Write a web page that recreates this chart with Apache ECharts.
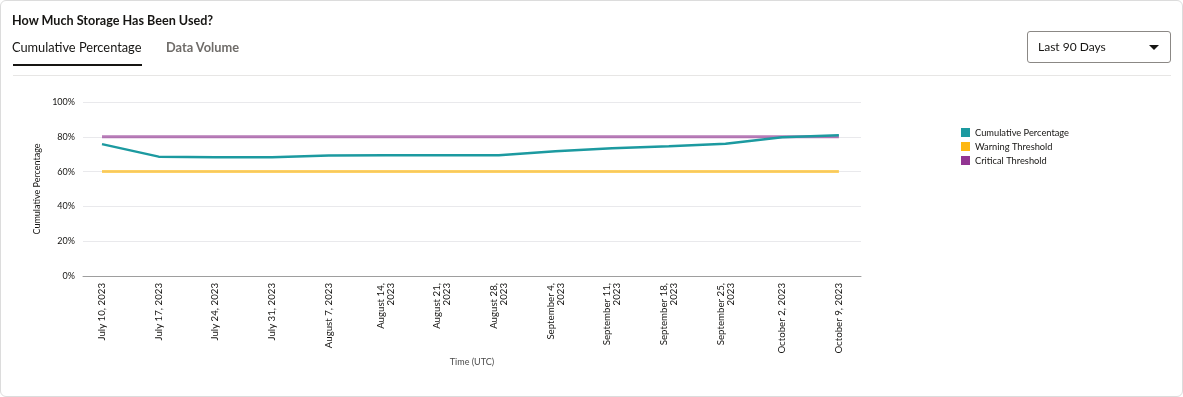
<!DOCTYPE html>
<html>
<head>
<meta charset="utf-8">
<script src="https://cdn.jsdelivr.net/npm/echarts@6/dist/echarts.min.js"></script>
<style>
  html, body { margin: 0; padding: 0; background: #fff; }
  .card {
    position: relative; width: 1183px; height: 397px; box-sizing: border-box;
    border: 1px solid #dcdcdc; border-radius: 6px; background: #fff;
    font-family: Lato, "Noto Sans", sans-serif; color: #161513; overflow: hidden;
  }
  .title { position: absolute; left: 11px; top: 12px; font-size: 12.6px; font-weight: bold; }
  .tab { position: absolute; top: 38px; font-size: 12.8px; }
  .tab.active { left: 11px; color: #161513; }
  .tab.other { left: 165px; color: #6f6c69; font-weight: bold; }
  .underline { position: absolute; left: 12px; top: 63px; width: 129px; height: 2px; background: #161513; }
  .divider { position: absolute; left: 12px; right: 11px; top: 74px; height: 1px; background: #e7e6e5; }
  .select {
    position: absolute; left: 1026px; top: 30px; width: 144px; height: 32px; box-sizing: border-box;
    border: 1px solid #8b8885; border-radius: 3px; font-size: 12px; line-height: 30px; padding-left: 10px;
  }
  .caret {
    position: absolute; right: 11px; top: 13px; width: 0; height: 0;
    border-left: 5px solid transparent; border-right: 5px solid transparent; border-top: 5px solid #161513;
  }
  #chart { position: absolute; left: 0; top: 0; width: 1183px; height: 397px; }
</style>
</head>
<body>
<div class="card">
  <div id="chart"></div>
  <div class="title">How Much Storage Has Been Used?</div>
  <div class="tab active">Cumulative Percentage</div>
  <div class="tab other">Data Volume</div>
  <div class="underline"></div>
  <div class="divider"></div>
  <div class="select">Last 90 Days<span class="caret"></span></div>
</div>
<script>
// weekly dates (tick labels, wrapped like the original)
var dateLabels = [
  'July 10, 2023', 'July 17, 2023', 'July 24, 2023', 'July 31, 2023',
  'August 7, 2023', 'August 14,\n2023', 'August 21,\n2023', 'August 28,\n2023',
  'September 4,\n2023', 'September 11,\n2023', 'September 18,\n2023', 'September 25,\n2023',
  'October 2, 2023', 'October 9, 2023'
];
var cumulative = [75.8, 68.6, 68.3, 68.3, 69.3, 69.4, 69.4, 69.4, 71.7, 73.4, 74.5, 76.0, 79.8, 80.9];
var warning = [60, 60, 60, 60, 60, 60, 60, 60, 60, 60, 60, 60, 60, 60];
var critical = [80, 80, 80, 80, 80, 80, 80, 80, 80, 80, 80, 80, 80, 80];
var yTicks = [0, 20, 40, 60, 80, 100];

function pairs(arr) {
  return arr.map(function (v, i) { return [i, v]; });
}
var idx = dateLabels.map(function (d, i) { return i; });

var chart = echarts.init(document.getElementById('chart'));
var font = 'Lato, "Noto Sans", sans-serif';

chart.setOption({
  animation: false,
  textStyle: { fontFamily: font },
  legend: {
    orient: 'vertical',
    left: 955,
    top: 122,
    itemWidth: 9,
    itemHeight: 9,
    itemGap: 5,
    icon: 'rect',
    textStyle: { fontSize: 9.3, color: '#161513', fontFamily: font },
    data: ['Cumulative Percentage', 'Warning Threshold', 'Critical Threshold']
  },
  grid: { left: 82, right: 323, top: 101, bottom: 122 },
  xAxis: {
    type: 'value',
    min: -0.335,
    max: 13.39,
    name: 'Time (UTC)',
    nameLocation: 'middle',
    nameGap: 80,
    nameTextStyle: { fontSize: 9, color: '#4a4a4a', fontFamily: font },
    axisLine: { show: true, lineStyle: { color: '#9e9e9e', width: 1 } },
    axisTick: { show: false },
    splitLine: { show: false },
    axisLabel: {
      customValues: idx,
      rotate: 90,
      margin: 7,
      fontSize: 9.7,
      lineHeight: 10,
      color: '#161513',
      fontFamily: font,
      formatter: function (v) { return dateLabels[Math.round(v)]; }
    }
  },
  yAxis: {
    type: 'value',
    min: 0,
    max: 100,
    interval: 20,
    name: 'Cumulative Percentage',
    nameLocation: 'middle',
    nameGap: 40,
    nameTextStyle: { fontSize: 9, color: '#161513', fontFamily: font },
    axisLine: { show: false },
    axisTick: { show: false },
    splitLine: { lineStyle: { color: '#e9e9ec', width: 1 } },
    axisLabel: {
      customValues: yTicks,
      margin: 8,
      fontSize: 9,
      color: '#161513',
      fontFamily: font,
      formatter: function (v) { return v + '%'; }
    }
  },
  series: [
    {
      name: 'Critical Threshold',
      type: 'line',
      data: pairs(critical),
      showSymbol: false,
      color: '#923592',
      lineStyle: { width: 3, opacity: 0.65 },
      z: 2
    },
    {
      name: 'Warning Threshold',
      type: 'line',
      data: pairs(warning),
      showSymbol: false,
      color: '#fdb813',
      lineStyle: { width: 3, opacity: 0.65 },
      z: 2
    },
    {
      name: 'Cumulative Percentage',
      type: 'line',
      data: pairs(cumulative),
      showSymbol: false,
      color: '#1c9aa0',
      lineStyle: { width: 2.5 },
      z: 3
    }
  ]
});
</script>
</body>
</html>
